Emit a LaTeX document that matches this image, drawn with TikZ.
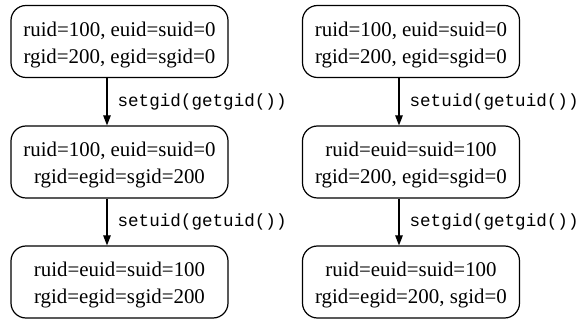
\documentclass[tikz,border=0pt]{standalone}
\usepackage{fontspec}
\setmainfont{Liberation Serif}
\setmonofont{Liberation Mono}
\usetikzlibrary{arrows.meta}
\tikzset{
  state/.style={draw, line width=1.2pt, rounded corners=15pt, minimum width=217pt,
    minimum height=72pt, inner sep=0pt, align=center,
    font=\fontsize{20.9}{27}\selectfont},
  trans/.style={draw, line width=1.2pt, -{Triangle[length=10pt,width=7.5pt]}},
  lbl/.style={anchor=base west, inner sep=0pt, xshift=10pt, yshift=-5pt,
    font=\fontsize{17.6}{20}\selectfont\ttfamily},
}
\newcommand{\up}{\rule{0pt}{21pt}}
\begin{document}
\begin{tikzpicture}[x=1pt,y=1pt]
\useasboundingbox (0,0) rectangle (579,-320);
\node[state] (L1) at (119.5,-41.5) {\up ruid=100, euid=suid=0\\rgid=200, egid=sgid=0};
\node[state] (L2) at (119.5,-162) {\up ruid=100, euid=suid=0\\rgid=egid=sgid=200};
\node[state] (L3) at (119.5,-282) {\up ruid=euid=suid=100\\rgid=egid=sgid=200};
\node[state] (R1) at (411,-41.5) {\up ruid=100, euid=suid=0\\rgid=200, egid=sgid=0};
\node[state] (R2) at (411,-162) {\up ruid=euid=suid=100\\rgid=200, egid=sgid=0};
\node[state] (R3) at (411,-282) {\up ruid=euid=suid=100\\rgid=egid=200, sgid=0};
\draw[trans] ([xshift=-12.5pt]L1.south) -- node[lbl] {setgid(getgid())} ([xshift=-12.5pt]L2.north);
\draw[trans] ([xshift=-12.5pt]L2.south) -- node[lbl] {setuid(getuid())} ([xshift=-12.5pt]L3.north);
\draw[trans] ([xshift=-12pt]R1.south) -- node[lbl] {setuid(getuid())} ([xshift=-12pt]R2.north);
\draw[trans] ([xshift=-12pt]R2.south) -- node[lbl] {setgid(getgid())} ([xshift=-12pt]R3.north);
\end{tikzpicture}
\end{document}
